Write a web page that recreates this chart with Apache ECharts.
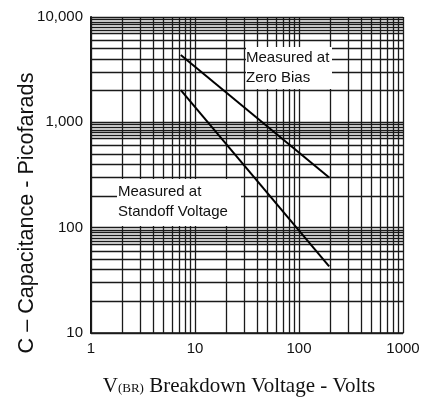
<!DOCTYPE html>
<html><head><meta charset="utf-8">
<script src="https://cdn.jsdelivr.net/npm/echarts@6/dist/echarts.min.js"></script>
<style>html,body{margin:0;padding:0;background:#fff}#c{width:434px;height:402px}</style>
</head><body><div id="c"></div>
<script>
// Tick labels
const xTickValues = [1, 10, 100, 1000];
const xTickLabels = ['1', '10', '100', '1000'];
const yTickValues = [10, 100, 1000, 10000];
const yTickLabels = ['10', '100', '1,000', '10,000'];
// Log paper grid multipliers per decade
const xDecades = [1, 10, 100];
const xGridMultipliers = [1, 2, 3, 4, 5, 6, 7, 8, 9];
const yDecades = [10, 100, 1000];
const yGridMultipliers = [1, 2, 3, 4, 5, 6, 7, 7.5, 8, 8.5, 9, 9.5];
// Series: breakdown voltage (V) vs capacitance (pF)
const zeroBiasV = [7.3, 195];
const zeroBiasC = [4350, 300];
const standoffV = [7.3, 195];
const standoffC = [2020, 43];

const xGridValues = [];
xDecades.forEach(d => xGridMultipliers.forEach(m => xGridValues.push(d * m)));
xGridValues.push(1000);
const yGridValues = [];
yDecades.forEach(d => yGridMultipliers.forEach(m => yGridValues.push(d * m)));
yGridValues.push(10000);

function lookup(vals, labels, v) {
  const i = vals.findIndex(t => Math.abs(t - v) / t < 1e-6);
  return i >= 0 ? labels[i] : '';
}

const gridLine = { color: '#1a1a1a', width: 1.3, type: 'solid' };
const chart = echarts.init(document.getElementById('c'), null, { renderer: 'canvas' });
chart.setOption({
  animation: false,
  backgroundColor: '#fff',
  grid: { left: 91, right: 31, top: 17, bottom: 69, containLabel: false },
  xAxis: {
    type: 'log', logBase: 10, min: 1, max: 1000,
    axisLine: { show: true, lineStyle: { color: '#111', width: 1.5 } },
    axisTick: { show: false },
    splitLine: { show: false },
    axisLabel: {
      margin: 8, color: '#111', fontSize: 15, fontFamily: '"Liberation Sans", Arial, sans-serif',
      formatter: v => lookup(xTickValues, xTickLabels, v)
    }
  },
  yAxis: {
    type: 'log', logBase: 10, min: 10, max: 10000,
    axisLine: { show: true, lineStyle: { color: '#111', width: 2 } },
    axisTick: { show: false },
    splitLine: { show: false },
    axisLabel: {
      margin: 8, color: '#111', fontSize: 15, fontFamily: '"Liberation Sans", Arial, sans-serif',
      formatter: v => lookup(yTickValues, yTickLabels, v)
    }
  },
  series: [
    {
      name: 'grid', type: 'line', data: [], silent: true, z: 1,
      markLine: {
        silent: true, symbol: ['none', 'none'], label: { show: false },
        lineStyle: gridLine, emphasis: { disabled: true },
        data: xGridValues.map(v => ({ xAxis: v })).concat(yGridValues.map(v => ({ yAxis: v })))
      }
    },
    {
      name: 'Zero Bias', type: 'line', z: 5, showSymbol: false,
      lineStyle: { color: '#000', width: 2 },
      data: zeroBiasV.map((v, i) => [v, zeroBiasC[i]])
    },
    {
      name: 'Standoff Voltage', type: 'line', z: 5, showSymbol: false,
      lineStyle: { color: '#000', width: 2 },
      data: standoffV.map((v, i) => [v, standoffC[i]])
    }
  ],
  graphic: [
    {
      type: 'text', x: 27, y: 213, rotation: Math.PI / 2, z: 100,
      style: { text: 'C \u2013 Capacitance - Picofarads', fontSize: 21.6, fontFamily: '"Liberation Sans", Arial, sans-serif', fill: '#111', align: 'center', verticalAlign: 'middle' }
    },
    {
      type: 'text', x: 239, y: 386, z: 100,
      style: {
        text: '{m|V}{s|(BR)}{m| Breakdown Voltage - Volts}',
        align: 'center', verticalAlign: 'middle', fill: '#111',
        rich: {
          m: { fontSize: 21, fontFamily: '"Liberation Serif", "Times New Roman", serif', fill: '#111' },
          s: { fontSize: 13, fontFamily: '"Liberation Serif", "Times New Roman", serif', fill: '#111', padding: [6, 0, 0, 0] }
        }
      }
    },
    { type: 'rect', z: 90, shape: { x: 246, y: 47, width: 86, height: 42 }, style: { fill: '#fff' } },
    {
      type: 'text', x: 246, y: 48.3, z: 100,
      style: { text: 'Measured at\nZero Bias', fontSize: 15, lineHeight: 20, fontFamily: '"Liberation Sans", Arial, sans-serif', fill: '#111', align: 'left', verticalAlign: 'top' }
    },
    { type: 'rect', z: 90, shape: { x: 117, y: 179, width: 124, height: 47 }, style: { fill: '#fff' } },
    {
      type: 'text', x: 118, y: 181.7, z: 100,
      style: { text: 'Measured at\nStandoff Voltage', fontSize: 15, lineHeight: 20, fontFamily: '"Liberation Sans", Arial, sans-serif', fill: '#111', align: 'left', verticalAlign: 'top' }
    }
  ]
});
</script></body></html>
